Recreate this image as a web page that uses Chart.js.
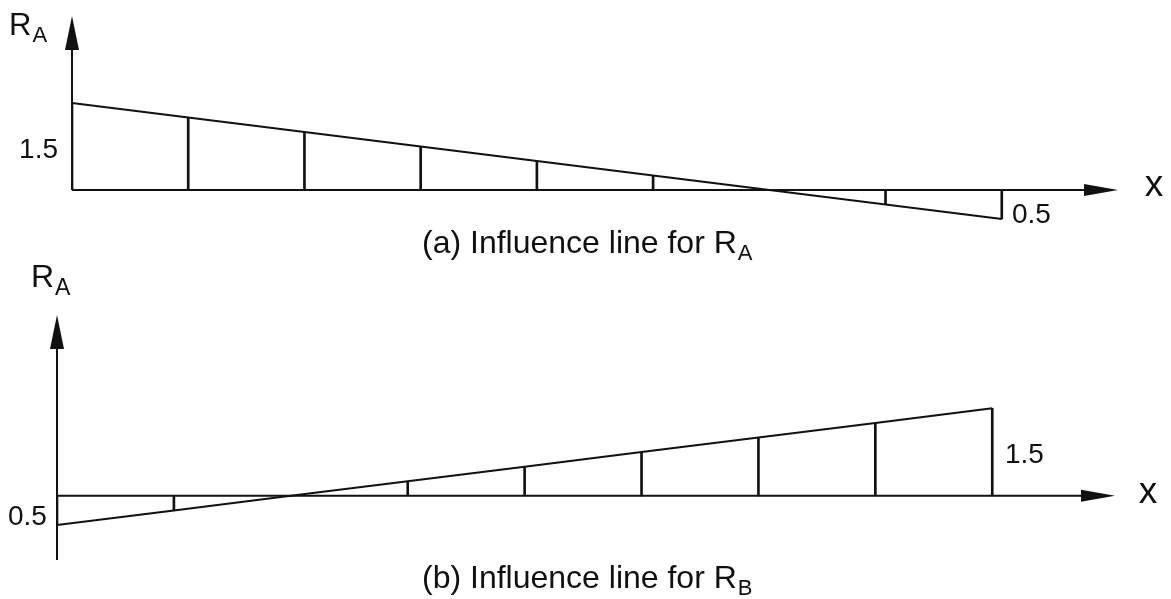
<!DOCTYPE html>
<html>
<head>
<meta charset="utf-8">
<title>Influence lines</title>
<script src="https://cdn.jsdelivr.net/npm/chart.js@4/dist/chart.umd.min.js"></script>
<style>
  html, body { margin: 0; padding: 0; background: #fff; }
  body { width: 1171px; height: 599px; position: relative; overflow: hidden; }
  canvas { position: absolute; left: 0; }
  #chartA { top: 0; }
  #chartB { top: 260px; }
</style>
</head>
<body>
<canvas id="chartA" width="1171" height="260"></canvas>
<canvas id="chartB" width="1171" height="339"></canvas>
<script>
// stations along the beam (load position)
var stations = [0, 1, 2, 3, 4, 5, 6, 7, 8];
// ordinates of the influence lines
var ordinatesA = [1.5, 1.25, 1.0, 0.75, 0.5, 0.25, 0, -0.25, -0.5];
var ordinatesB = [-0.5, -0.25, 0, 0.25, 0.5, 0.75, 1.0, 1.25, 1.5];

function toPoints(xs, ys) {
    return xs.map(function(x, i) { return { x: x, y: ys[i] }; });
}

var ink = '#111';
var font = '"Liberation Sans", Arial, sans-serif';

/* axes with arrow heads, drawn from the chart's own scales */
var arrowAxes = {
    id: 'arrowAxes',
    afterDatasetsDraw: function(chart, args, opts) {
        var ctx = chart.ctx;
        var xs = chart.scales.x, ys = chart.scales.y;
        var area = chart.chartArea;
        var x0 = xs.getPixelForValue(0);
        var y0 = ys.getPixelForValue(0);
        var yBottom = ys.getPixelForValue(opts.axisBottom);
        var len = 34, half = 7;
        ctx.save();
        ctx.strokeStyle = ink;
        ctx.fillStyle = ink;
        ctx.lineWidth = 2;
        ctx.beginPath();
        ctx.moveTo(x0, yBottom);
        ctx.lineTo(x0, area.top + len - 2);
        ctx.moveTo(x0, y0);
        ctx.lineTo(area.right - len + 2, y0);
        ctx.stroke();
        // y arrow
        ctx.beginPath();
        ctx.moveTo(x0, area.top);
        ctx.lineTo(x0 - half, area.top + len);
        ctx.lineTo(x0 + half, area.top + len);
        ctx.closePath();
        ctx.fill();
        // x arrow
        ctx.beginPath();
        ctx.moveTo(area.right, y0);
        ctx.lineTo(area.right - len, y0 - half + 1);
        ctx.lineTo(area.right - len, y0 + half - 1);
        ctx.closePath();
        ctx.fill();
        ctx.restore();
    }
};

/* text labels, with optional subscript */
var textLabels = {
    id: 'textLabels',
    afterDraw: function(chart, args, opts) {
        var ctx = chart.ctx;
        ctx.save();
        ctx.fillStyle = ink;
        ctx.textBaseline = 'alphabetic';
        opts.items.forEach(function(t) {
            ctx.font = t.size + 'px ' + font;
            var w = ctx.measureText(t.text).width;
            var x = t.x;
            if (t.align === 'right') x = t.x - w;
            if (t.align === 'center') x = t.x - w / 2;
            ctx.textAlign = 'left';
            ctx.fillText(t.text, x, t.y);
            if (t.sub) {
                ctx.font = t.subSize + 'px ' + font;
                ctx.fillText(t.sub, x + w + 1, t.y + t.subDrop);
            }
        });
        ctx.restore();
    }
};

function makeChart(id, ys, cfg) {
    var pts = toPoints(stations, ys);
    return new Chart(document.getElementById(id).getContext('2d'), {
        type: 'line',
        data: {
            datasets: [{
                type: 'line',
                data: pts,
                borderColor: ink,
                borderWidth: 2,
                pointRadius: 0,
                fill: false,
                tension: 0
            }, {
                type: 'bar',
                data: pts,
                backgroundColor: ink,
                borderWidth: 0,
                barThickness: 2
            }]
        },
        options: {
            responsive: false,
            animation: false,
            events: [],
            layout: { padding: cfg.padding },
            plugins: {
                legend: { display: false },
                tooltip: { enabled: false },
                arrowAxes: { axisBottom: cfg.axisBottom },
                textLabels: { items: cfg.labels }
            },
            scales: {
                x: { type: 'linear', min: 0, max: cfg.xMax, offset: false, display: false },
                y: { type: 'linear', min: cfg.yMin, max: cfg.yMax, display: false }
            }
        },
        plugins: [arrowAxes, textLabels]
    });
}

makeChart('chartA', ordinatesA, {
    padding: { left: 72, right: 53, top: 16, bottom: 26.5 },
    xMax: 9, yMin: -0.75, yMax: 3, axisBottom: 0,
    labels: [
        { text: 'R', sub: 'A', x: 9, y: 35, size: 31, subSize: 22, subDrop: 7 },
        { text: '1.5', x: 58, y: 158, size: 28, align: 'right' },
        { text: '0.5', x: 1012, y: 223, size: 28 },
        { text: 'x', x: 1154, y: 196, size: 37, align: 'center' },
        { text: '(a) Influence line for R', sub: 'A', x: 422, y: 253, size: 32, subSize: 22, subDrop: 7 }
    ]
});

makeChart('chartB', ordinatesB, {
    padding: { left: 57, right: 56, top: 55, bottom: 39 },
    xMax: 9.05, yMin: -1.1, yMax: 3.1, axisBottom: -1.1,
    labels: [
        { text: 'R', sub: 'A', x: 31, y: 27, size: 32, subSize: 23, subDrop: 8 },
        { text: '0.5', x: 8, y: 265, size: 28 },
        { text: '1.5', x: 1005, y: 203, size: 28 },
        { text: 'x', x: 1148, y: 243, size: 37, align: 'center' },
        { text: '(b) Influence line for R', sub: 'B', x: 422, y: 328, size: 32, subSize: 22, subDrop: 7 }
    ]
});
</script>
</body>
</html>
